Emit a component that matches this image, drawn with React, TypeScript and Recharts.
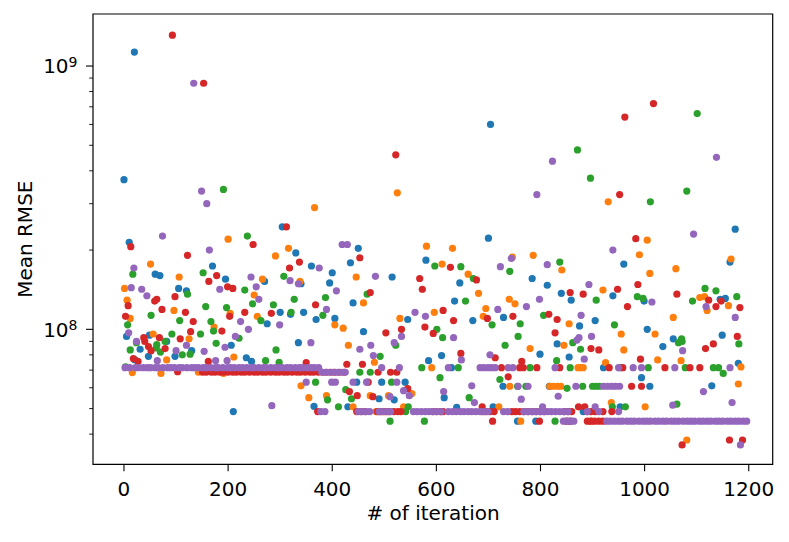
import { ReferenceArea, Scatter, ScatterChart, XAxis, YAxis } from 'recharts';

const FONT = '"DejaVu Sans", sans-serif';

// axis ranges as in the figure (matplotlib default margins)
const X_MIN = -59.5;
const X_MAX = 1246;
const Y_MIN = 3.072e7;
const Y_MAX = 1.576e9;

const xTicks = [0, 200, 400, 600, 800, 1000, 1200];
const yMajorTicks = [1e8, 1e9];
const yMinorTicks = [4e7, 5e7, 6e7, 7e7, 8e7, 9e7, 2e8, 3e8, 4e8, 5e8, 6e8, 7e8, 8e8, 9e8];

// plateau values where several runs sit for many iterations
const LEVEL_A = 7.15e7;
const LEVEL_B = 6.87e7;
const LEVEL_C = 6.3e7;
const LEVEL_D = 6.08e7;
const LEVEL_F = 4.87e7;
const LEVEL_G = 4.48e7;

// [iteration, mean RMSE]
const blueScatter = [
  [0, 3.7e8], [20, 1.13e9], [704, 6.0e8], [10, 2.14e8], [304, 2.45e8], [330, 1.95e8], [360, 1.74e8],
  [60, 1.62e8], [69, 1.6e8], [170, 1.74e8], [195, 1.55e8], [270, 1.52e8], [340, 1.49e8], [105, 1.43e8],
  [120, 1.4e8], [275, 1.05e8], [300, 1.16e8], [320, 1.14e8], [345, 1.16e8], [369, 1.09e8], [5, 9.4e7],
  [49, 9.5e7], [700, 2.22e8], [450, 2.03e8], [435, 1.79e8], [580, 1.83e8], [400, 1.64e8], [395, 1.5e8],
  [515, 1.58e8], [645, 1.5e8], [440, 1.26e8], [635, 1.28e8], [784, 1.56e8], [813, 1.47e8], [729, 1.11e8],
  [670, 1.08e8], [545, 1.09e8], [405, 1.1e8], [460, 9.8e7], [1174, 2.4e8], [960, 1.77e8], [1164, 1.8e8],
  [840, 1.37e8], [859, 1.29e8], [939, 1.34e8], [999, 1.28e8], [1145, 1.3e8], [1155, 1.31e8], [875, 1.03e8],
  [905, 1.08e8], [1005, 1.0e8], [1149, 9.5e7], [1055, 9.2e7], [31, 8.4e7], [82, 9.0e7], [130, 8.3e7],
  [206, 8.7e7], [235, 7.8e7], [245, 7.55e7], [335, 8.9e7], [365, 5.1e7], [210, 4.87e7], [21, 7.65e7],
  [47, 7.9e7], [98, 7.9e7], [585, 7.6e7], [610, 7.95e7], [615, 5.5e7], [490, 5.45e7], [519, 5.4e7],
  [430, 5.08e7], [639, 5.05e7], [709, 5.08e7], [799, 8.05e7], [832, 8.8e7], [855, 7.85e7], [1035, 8.6e7],
  [1180, 7.43e7], [994, 6.55e7], [1129, 6.1e7], [953, 5.08e7], [882, 4.87e7],
];
const blueAtA = [629, 921];
const blueAtC = [447, 495, 540];
const blueAtD = [728, 817, 1010];
const blueAtG = [756, 791];

const orangeScatter = [
  [525, 3.3e8], [930, 3.05e8], [366, 2.9e8], [200, 2.2e8], [316, 2.03e8], [291, 1.9e8], [51, 1.77e8],
  [106, 1.58e8], [266, 1.55e8], [338, 1.52e8], [1, 1.43e8], [250, 1.35e8], [6, 1.29e8], [96, 1.18e8],
  [204, 1.15e8], [12, 1.1e8], [173, 1.02e8], [256, 1.12e8], [56, 9.6e7], [125, 9.2e7], [581, 2.07e8],
  [631, 2.03e8], [786, 1.91e8], [746, 1.88e8], [611, 1.77e8], [661, 1.62e8], [446, 1.58e8], [681, 1.37e8],
  [460, 1.26e8], [740, 1.3e8], [751, 1.25e8], [695, 1.2e8], [690, 1.12e8], [596, 1.16e8], [530, 1.1e8],
  [405, 1.04e8], [421, 1.01e8], [1005, 2.18e8], [990, 1.92e8], [1166, 1.85e8], [1010, 1.63e8], [1060, 1.7e8],
  [841, 1.68e8], [920, 1.41e8], [1106, 1.32e8], [1115, 1.33e8], [1120, 1.18e8], [1161, 1.23e8], [1055, 1.11e8],
  [855, 1.05e8], [955, 9.6e7], [1020, 9.6e7], [211, 7.85e7], [340, 6.1e7], [355, 5.5e7], [16, 6.85e7],
  [71, 6.8e7], [191, 6.8e7], [82, 7.65e7], [143, 6.87e7], [431, 8.7e7], [481, 7.5e7], [780, 8.45e7],
  [389, 5.6e7], [473, 5.6e7], [508, 5.6e7], [553, 5.7e7], [720, 5.08e7], [440, 5.08e7], [537, 5.08e7],
  [845, 8.7e7], [960, 8.35e7], [925, 7.47e7], [1025, 7.65e7], [1070, 7.6e7], [1185, 7.2e7], [1180, 6.2e7],
  [1001, 5.08e7], [1081, 3.8e7], [936, 5.27e7],
];
const orangeAtA = [591, 872, 877, 882];
const orangeAtD = [741, 818, 825, 833, 839];
const orangeAtF = [484, 491, 499, 507];
const orangeAtG = [762, 897];

const greenScatter = [
  [191, 3.4e8], [1101, 6.6e8], [871, 4.8e8], [896, 3.75e8], [1081, 3.35e8], [1011, 3.05e8], [237, 2.26e8],
  [17, 1.62e8], [152, 1.64e8], [307, 1.59e8], [122, 1.36e8], [157, 1.22e8], [232, 1.41e8], [247, 1.25e8],
  [287, 1.24e8], [327, 1.3e8], [197, 1.21e8], [52, 1.13e8], [7, 1.04e8], [107, 1.08e8], [167, 1.07e8],
  [172, 9.85e7], [147, 9.6e7], [92, 9.6e7], [263, 1.08e8], [321, 1.16e8], [597, 1.74e8], [647, 1.73e8],
  [671, 1.56e8], [741, 1.66e8], [387, 1.32e8], [467, 1.36e8], [656, 1.28e8], [707, 1.04e8], [761, 1.05e8],
  [806, 1.13e8], [382, 1.13e8], [601, 1.0e8], [612, 9.3e7], [757, 9.4e7], [837, 1.8e8], [907, 1.29e8],
  [986, 1.33e8], [997, 1.31e8], [1116, 1.43e8], [1137, 1.4e8], [1092, 1.28e8], [1177, 1.33e8], [942, 1.04e8],
  [1071, 9.2e7], [12, 8.35e7], [62, 8.5e7], [70, 8.2e7], [112, 8.0e7], [127, 8.05e7], [177, 8.85e7],
  [221, 9.25e7], [272, 7.6e7], [298, 7.5e7], [292, 8.35e7], [368, 6.3e7], [3, 7.2e7], [24, 8.9e7],
  [63, 8.75e7], [79, 9.0e7], [522, 8.7e7], [732, 8.7e7], [492, 7.9e7], [607, 6.55e7], [722, 6.45e7],
  [663, 5.5e7], [391, 5.4e7], [426, 5.9e7], [437, 5.45e7], [412, 5.08e7], [546, 5.08e7], [541, 4.87e7],
  [862, 8.9e7], [877, 8.4e7], [1065, 8.9e7], [1072, 9.0e7], [1181, 8.8e7], [831, 7.6e7], [1151, 6.8e7],
  [851, 5.97e7], [1062, 5.2e7], [938, 5.08e7], [963, 5.08e7],
];
const greenAtA = [572, 642, 780, 857, 953, 1007, 1078, 1132, 1142];
const greenAtB = [453, 473];
const greenAtC = [514];
const greenAtD = [756, 772, 881, 900, 907, 913];
const greenAtG = [511, 577, 828];

const redScatter = [
  [93, 1.31e9], [153, 8.6e8], [522, 4.6e8], [1017, 7.2e8], [962, 6.4e8], [952, 3.25e8], [312, 2.45e8],
  [13, 2.06e8], [248, 2.1e8], [122, 1.91e8], [337, 1.8e8], [318, 1.71e8], [178, 1.6e8], [163, 1.52e8],
  [98, 1.33e8], [59, 1.28e8], [63, 1.3e8], [8, 1.23e8], [73, 1.19e8], [118, 1.16e8], [199, 1.45e8],
  [209, 1.43e8], [368, 1.24e8], [203, 1.12e8], [3, 1.12e8], [133, 1.07e8], [188, 9.85e7], [128, 9.8e7],
  [232, 1.16e8], [283, 1.15e8], [68, 9.3e7], [38, 9.3e7], [108, 9.2e7], [453, 1.87e8], [627, 1.72e8],
  [677, 1.54e8], [568, 1.56e8], [573, 1.42e8], [473, 1.38e8], [698, 1.1e8], [747, 1.12e8], [816, 1.14e8],
  [633, 1.08e8], [613, 1.18e8], [503, 9.7e7], [533, 1.0e8], [578, 1.02e8], [594, 9.65e7], [983, 2.21e8],
  [987, 1.48e8], [948, 1.42e8], [857, 1.38e8], [882, 1.36e8], [1062, 1.36e8], [967, 1.22e8], [1123, 1.29e8],
  [1147, 1.28e8], [1137, 1.22e8], [1183, 1.21e8], [832, 1.09e8], [828, 9.7e7], [1178, 9.4e7], [40, 9.0e7],
  [47, 8.6e7], [52, 8.3e7], [79, 8.45e7], [350, 7.47e7], [372, 4.87e7], [18, 7.75e7], [103, 6.9e7],
  [27, 7.55e7], [162, 7.55e7], [428, 7.37e7], [458, 7.37e7], [647, 8.1e7], [713, 7.8e7], [764, 7.55e7],
  [738, 6.6e7], [433, 5.8e7], [448, 5.6e7], [478, 5.55e7], [545, 5.95e7], [688, 5.08e7], [708, 4.48e7],
  [897, 8.45e7], [912, 8.35e7], [1117, 8.45e7], [1132, 8.8e7], [992, 7.7e7], [1072, 3.64e7], [1163, 3.8e7],
  [1188, 3.8e7], [873, 5.08e7], [885, 5.08e7], [937, 4.87e7],
];
const redAtA = [725, 760, 767, 793, 837, 932, 958, 1039, 1087, 1106];
const redAtB = [
  151, 158, 168, 175, 184, 191, 200, 209, 216, 225, 232, 241, 250, 257, 266, 273, 282, 291, 298, 307,
  314, 323, 332, 339, 348, 357, 364, 373, 382, 389, 398, 405, 414, 423, 488, 512, 524,
];
const redAtC = [469];
const redAtD = [975, 994];
const redAtF = [
  447, 455, 463, 487, 494, 502, 510, 518, 526, 532, 593, 600, 608, 613, 688, 695, 703, 711, 745, 752,
  760, 768, 776, 784, 792, 800, 808, 846, 853, 860, 890, 897, 905, 920,
];
const redAtG = [798, 850, 857, 890, 897, 904, 912, 920];

const purpleScatter = [
  [134, 8.6e8], [149, 3.35e8], [823, 4.35e8], [1138, 4.5e8], [793, 3.25e8], [159, 3.0e8], [74, 2.26e8],
  [164, 2.0e8], [375, 1.71e8], [19, 1.71e8], [244, 1.58e8], [319, 1.53e8], [335, 1.49e8], [14, 1.44e8],
  [34, 1.42e8], [44, 1.34e8], [184, 1.42e8], [254, 1.45e8], [259, 1.3e8], [224, 1.07e8], [239, 1.0e8],
  [299, 1.04e8], [214, 9.4e7], [9, 9.7e7], [419, 2.1e8], [429, 2.1e8], [744, 1.86e8], [813, 1.76e8],
  [723, 1.73e8], [483, 1.59e8], [408, 1.4e8], [798, 1.3e8], [773, 1.22e8], [718, 1.19e8], [579, 1.12e8],
  [559, 1.16e8], [389, 1.19e8], [533, 9.4e7], [633, 9.3e7], [1094, 2.3e8], [939, 2.0e8], [893, 1.48e8],
  [1014, 1.27e8], [1118, 1.22e8], [1174, 1.11e8], [878, 1.13e8], [874, 9.3e7], [898, 9.4e7], [24, 9.0e7],
  [100, 8.3e7], [120, 8.7e7], [154, 8.25e7], [194, 8.55e7], [359, 8.9e7], [350, 6.3e7], [284, 5.13e7],
  [176, 7.6e7], [198, 7.6e7], [64, 7.6e7], [453, 8.4e7], [474, 8.7e7], [519, 8.9e7], [479, 7.95e7],
  [648, 7.65e7], [703, 8.0e7], [668, 6.1e7], [614, 5.8e7], [763, 5.43e7], [673, 5.27e7], [511, 5.55e7],
  [537, 5.85e7], [548, 5.6e7], [804, 5.08e7], [870, 9.1e7], [1073, 8.3e7], [884, 7.7e7], [1113, 5.8e7],
  [834, 5.57e7], [1168, 5.27e7], [1054, 5.15e7], [1184, 3.64e7], [905, 5.08e7],
];
const purpleAtA = [
  2, 11, 22, 28, 37, 45, 51, 60, 66, 75, 84, 90, 97, 106, 112, 121, 130, 136, 143, 152, 158, 167, 176,
  181, 190, 199, 205, 212, 221, 228, 236, 245, 250, 259, 268, 273, 282, 291, 297, 304, 313, 320, 329,
  337, 343, 352, 360, 366, 374, 495, 529, 623, 684, 691, 699, 706, 713, 738, 747, 828, 950, 978, 994,
  1058, 1164,
];
const purpleAtB = [380, 388, 395, 404, 411, 419, 425];
const purpleAtC = [399, 406, 440, 466, 524];
const purpleAtD = [757, 776, 868, 921, 929, 937, 944, 952];
const purpleAtF = [
  378, 386, 450, 457, 465, 472, 490, 497, 505, 512, 556, 563, 571, 579, 586, 594, 601, 609, 623, 631,
  638, 646, 653, 661, 668, 676, 684, 691, 699, 729, 737, 768, 776, 784, 791, 799, 806, 814, 821, 829,
  837, 845, 853, 890, 912, 950,
];
const purpleAtG = [
  844, 851, 858, 864, 927, 934, 942, 950, 957, 966, 973, 980, 989, 997, 1004, 1011, 1020, 1027, 1035,
  1042, 1051, 1058, 1065, 1074, 1082, 1089, 1096, 1105, 1112, 1120, 1127, 1136, 1143, 1150, 1159, 1166,
  1174, 1181, 1189, 1196,
];

const pairs = (list: number[][]) => list.map(([x, y]) => ({ x, y }));
const atLevel = (iters: number[], level: number) => iters.map((x) => ({ x, y: level }));

const series = [
  {
    name: 'run 1',
    color: '#1f77b4',
    data: [
      ...pairs(blueScatter),
      ...atLevel(blueAtA, LEVEL_A),
      ...atLevel(blueAtC, LEVEL_C),
      ...atLevel(blueAtD, LEVEL_D),
      ...atLevel(blueAtG, LEVEL_G),
    ],
  },
  {
    name: 'run 2',
    color: '#ff7f0e',
    data: [
      ...pairs(orangeScatter),
      ...atLevel(orangeAtA, LEVEL_A),
      ...atLevel(orangeAtD, LEVEL_D),
      ...atLevel(orangeAtF, LEVEL_F),
      ...atLevel(orangeAtG, LEVEL_G),
    ],
  },
  {
    name: 'run 3',
    color: '#2ca02c',
    data: [
      ...pairs(greenScatter),
      ...atLevel(greenAtA, LEVEL_A),
      ...atLevel(greenAtB, LEVEL_B),
      ...atLevel(greenAtC, LEVEL_C),
      ...atLevel(greenAtD, LEVEL_D),
      ...atLevel(greenAtG, LEVEL_G),
    ],
  },
  {
    name: 'run 4',
    color: '#d62728',
    data: [
      ...pairs(redScatter),
      ...atLevel(redAtA, LEVEL_A),
      ...atLevel(redAtB, LEVEL_B),
      ...atLevel(redAtC, LEVEL_C),
      ...atLevel(redAtD, LEVEL_D),
      ...atLevel(redAtF, LEVEL_F),
      ...atLevel(redAtG, LEVEL_G),
    ],
  },
  {
    name: 'run 5',
    color: '#9467bd',
    data: [
      ...pairs(purpleScatter),
      ...atLevel(purpleAtA, LEVEL_A),
      ...atLevel(purpleAtB, LEVEL_B),
      ...atLevel(purpleAtC, LEVEL_C),
      ...atLevel(purpleAtD, LEVEL_D),
      ...atLevel(purpleAtF, LEVEL_F),
      ...atLevel(purpleAtG, LEVEL_G),
    ],
  },
];

const TICK_LEN = 7;
const MINOR_LEN = 3.8;
const Y_TICK_MARGIN = 9;

const renderXTick = (props: any) => {
  const { x, y, payload } = props;
  return (
    <text x={x} y={y + 14.4} textAnchor="middle" fontSize={20} fontFamily={FONT} fill="#000">
      {payload.value}
    </text>
  );
};

const renderYTick = (props: any) => {
  const { x, y, payload } = props;
  const axisX = x + Y_TICK_MARGIN + TICK_LEN;
  const isMajor = yMajorTicks.includes(payload.value);
  const len = isMajor ? TICK_LEN : MINOR_LEN;
  return (
    <g>
      <line x1={axisX - len} y1={y} x2={axisX} y2={y} stroke="#000" strokeWidth={isMajor ? 1.1 : 0.9} />
      {isMajor ? (
        <text x={x + 0.5} y={y + 7.3} textAnchor="end" fontSize={20} fontFamily={FONT} fill="#000">
          10
          <tspan dy={-6.6} fontSize={14}>
            {Math.round(Math.log10(payload.value))}
          </tspan>
        </text>
      ) : null}
    </g>
  );
};

const Dot = (color: string) => (props: any) => <circle cx={props.cx} cy={props.cy} r={3.6} fill={color} />;

const App = () => {
  return (
    <div style={{ position: 'absolute', left: 0, top: 0, width: 789, height: 542, background: '#fff' }}>
      <ScatterChart width={789} height={542} margin={{ top: 14, right: 16.3, bottom: 0, left: 0 }}>
        <XAxis
          type="number"
          dataKey="x"
          domain={[X_MIN, X_MAX]}
          allowDataOverflow
          ticks={xTicks}
          interval={0}
          height={77.7}
          axisLine={false}
          tickSize={TICK_LEN}
          tickMargin={10}
          tickLine={{ stroke: '#000', strokeWidth: 1.1 }}
          tick={renderXTick}
        />
        <YAxis
          type="number"
          dataKey="y"
          scale="log"
          domain={[Y_MIN, Y_MAX]}
          allowDataOverflow
          ticks={[...yMinorTicks, ...yMajorTicks]}
          interval={0}
          width={93}
          axisLine={false}
          tickSize={TICK_LEN}
          tickMargin={Y_TICK_MARGIN}
          tickLine={false}
          tick={renderYTick}
        />
        {series.map((s) => (
          <Scatter
            key={s.name}
            name={s.name}
            data={s.data}
            fill={s.color}
            shape={Dot(s.color)}
            isAnimationActive={false}
          />
        ))}
        <ReferenceArea
          x1={X_MIN}
          x2={X_MAX}
          y1={Y_MIN}
          y2={Y_MAX}
          fill="none"
          fillOpacity={0}
          stroke="#000"
          strokeWidth={1.2}
          ifOverflow="visible"
        />
      </ScatterChart>
      <svg
        width={789}
        height={542}
        style={{ position: 'absolute', left: 0, top: 0, pointerEvents: 'none' }}
      >
        <text x={433} y={520} textAnchor="middle" fontSize={20} fontFamily={FONT} fill="#000">
          # of iteration
        </text>
        <text
          transform="translate(31.7, 239.2) rotate(-90)"
          textAnchor="middle"
          fontSize={20}
          fontFamily={FONT}
          fill="#000"
        >
          Mean RMSE
        </text>
      </svg>
    </div>
  );
};

export default App;
